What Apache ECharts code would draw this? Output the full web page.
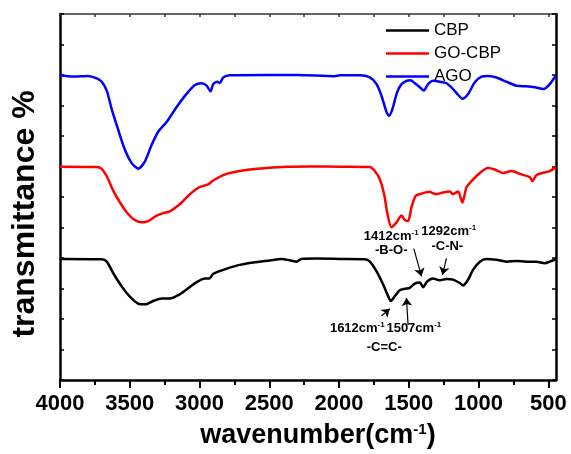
<!DOCTYPE html>
<html>
<head>
<meta charset="utf-8">
<script src="https://cdn.jsdelivr.net/npm/echarts@6/dist/echarts.min.js"></script>
<style>
html,body{margin:0;padding:0;background:#fff;}
#chart{width:571px;height:454px;}
</style>
</head>
<body>
<div id="chart"></div>
<script>
// ---- data (wavenumber, transmittance in arbitrary offset units) ----
const cbpWn = [4000,3701,3665,3618,3558,3499,3439,3391,3332,3272,3212,3153,3093,3021,2961,2930,2902,2830,2734,2615,2496,2412,2340,2305,2269,2161,1994,1815,1779,1731,1684,1648,1629,1600,1565,1529,1493,1457,1421,1398,1369,1326,1278,1230,1183,1135,1111,1075,1040,991,944,872,800,729,657,585,526,490,445];
const cbpT  = [3.97,3.96,3.88,3.50,3.07,2.73,2.50,2.48,2.59,2.67,2.67,2.78,2.97,3.21,3.33,3.33,3.48,3.61,3.75,3.85,3.92,3.97,3.91,3.88,3.97,3.98,3.97,3.96,3.88,3.56,3.13,2.75,2.59,2.75,2.94,2.99,3.02,3.16,3.20,3.04,3.23,3.33,3.27,3.31,3.29,3.18,3.10,3.29,3.61,3.88,3.97,3.94,3.88,3.90,3.88,3.88,3.83,3.88,3.96];

const goCbpWn = [4000,3737,3701,3665,3618,3570,3522,3475,3415,3367,3307,3260,3212,3140,3069,2997,2938,2902,2830,2759,2639,2519,2376,2209,1994,1779,1744,1708,1677,1653,1624,1588,1552,1529,1505,1481,1450,1409,1355,1302,1254,1207,1183,1147,1116,1087,1051,991,932,884,825,765,693,633,614,585,538,490,445];
const goCbpT  = [6.99,6.98,6.92,6.68,6.20,5.82,5.50,5.28,5.17,5.21,5.39,5.47,5.53,5.77,6.09,6.33,6.41,6.54,6.72,6.81,6.90,6.95,6.99,7.00,6.99,6.98,6.85,6.58,6.09,5.44,5.01,5.17,5.39,5.25,5.21,5.66,6.04,6.11,6.17,6.09,6.15,6.18,6.09,6.18,5.82,6.31,6.52,6.79,6.95,6.90,6.79,6.85,6.74,6.65,6.52,6.72,6.79,6.85,6.98];

const agoWn = [4000,3905,3800,3737,3701,3665,3630,3582,3534,3486,3439,3391,3343,3296,3236,3164,3093,3033,2985,2949,2921,2902,2873,2854,2830,2782,2500,2300,2030,1994,1851,1779,1731,1696,1660,1641,1617,1584,1552,1517,1488,1457,1421,1393,1362,1326,1278,1230,1183,1147,1116,1075,1027,979,932,872,800,729,657,598,533,490,445];
const agoT  = [9.99,9.95,9.97,9.89,9.78,9.49,8.89,8.19,7.54,7.11,6.93,7.17,7.71,8.14,8.46,8.95,9.38,9.67,9.73,9.65,9.46,9.70,9.78,9.74,9.92,9.99,10.0,10.0,9.96,9.99,9.99,9.92,9.70,9.32,8.79,8.66,8.89,9.43,9.70,9.81,9.83,9.73,9.60,9.49,9.70,9.81,9.78,9.73,9.54,9.35,9.22,9.38,9.76,9.95,9.97,9.92,9.78,9.65,9.63,9.60,9.54,9.70,9.99];

const seriesNames = ['CBP','GO-CBP','AGO'];

// tick labels
const majorTicks = [4000,3500,3000,2500,2000,1500,1000,500];
const minorTicks = [3750,3250,2750,2250,1750,1250,750];

// annotations (text + superscript, anchored in data coordinates)
const annoMain = ['1412cm','-B-O-','1292cm','-C-N-','1612cm','1507cm','-C=C-'];
const annoSup  = ['-1','','-1','','-1','-1',''];
const annoWn   = [1626,1626,1214,1224,1869,1464,1676];
const annoT    = [4.72,4.24,4.88,4.37,1.68,1.68,1.07];

// arrows: from -> to (data coordinates)
const arrowFromWn = [1464,1230,1696,1505];
const arrowFromT  = [4.31,3.99,2.10,1.80];
const arrowToWn   = [1409,1259,1636,1517];
const arrowToT    = [3.40,3.45,2.34,2.69];

const FONT = '"Liberation Sans", Arial, Helvetica, sans-serif';

function zip(a, b) { return a.map((x, i) => [x, b[i]]); }

const chart = echarts.init(document.getElementById('chart'), null, {renderer: 'canvas'});

const annoData = annoMain.map((t, i) => ({
  name: t,
  coord: [annoWn[i], annoT[i]],
  label: { formatter: annoSup[i] ? '{m|' + t + '}{s|' + annoSup[i] + '}' : '{m|' + t + '}' }
}));

const arrowData = arrowFromWn.map((w, i) => [
  { coord: [w, arrowFromT[i]] },
  { coord: [arrowToWn[i], arrowToT[i]] }
]);

const option = {
  animation: false,
  backgroundColor: '#fff',
  textStyle: { fontFamily: FONT },
  grid: { left: 60, right: 15, top: 14, bottom: 69, containLabel: false },
  legend: {
    data: seriesNames,
    orient: 'vertical',
    left: 381,
    top: 17,
    icon: 'rect',
    itemWidth: 43,
    itemHeight: 2.5,
    itemGap: 6,
    textStyle: { fontSize: 17, color: '#000', fontFamily: FONT },
    inactiveColor: '#ccc'
  },
  xAxis: [
    {
      type: 'value', position: 'bottom', inverse: true, min: 445, max: 4000,
      axisLine: { show: true, onZero: false, lineStyle: { color: '#000', width: 2.5 } },
      axisTick: { show: true, inside: false, length: 8, lineStyle: { color: '#000', width: 2 }, customValues: majorTicks },
      axisLabel: { show: true, customValues: majorTicks, formatter: v => String(v), fontSize: 22, fontWeight: 'bold', color: '#000', margin: 13, fontFamily: FONT },
      splitLine: { show: false },
      name: '{a|wavenumber(cm}{s|-1}{a|)}',
      nameLocation: 'middle',
      nameGap: 42,
      nameTextStyle: {
        padding: [0, 0, 0, 20],
        rich: {
          a: { fontSize: 27, fontWeight: 'bold', color: '#000', fontFamily: FONT },
          s: { fontSize: 15, fontWeight: 'bold', color: '#000', fontFamily: FONT, verticalAlign: 'top' }
        }
      }
    },
    {
      type: 'value', position: 'bottom', inverse: true, min: 445, max: 4000,
      axisLine: { show: false, onZero: false },
      axisTick: { show: true, inside: false, length: 5, lineStyle: { color: '#000', width: 2 }, customValues: minorTicks },
      axisLabel: { show: false },
      splitLine: { show: false }
    },
    {
      type: 'value', position: 'top', inverse: true, min: 445, max: 4000,
      axisLine: { show: true, onZero: false, lineStyle: { color: '#333', width: 1.5 } },
      axisTick: { show: true, inside: true, length: 3, lineStyle: { color: '#333', width: 1.5 }, customValues: majorTicks.concat(minorTicks) },
      axisLabel: { show: false },
      splitLine: { show: false }
    }
  ],
  yAxis: [
    {
      type: 'value', position: 'left', min: 0, max: 12, interval: 1,
      axisLine: { show: true, onZero: false, lineStyle: { color: '#000', width: 2.5 } },
      axisTick: { show: true, inside: true, length: 4, lineStyle: { color: '#000', width: 1.5 } },
      axisLabel: { show: false },
      splitLine: { show: false },
      name: 'transmittance %',
      nameLocation: 'middle',
      nameRotate: 90,
      nameGap: 19,
      nameTextStyle: { fontSize: 32, fontWeight: 'bold', color: '#000', fontFamily: FONT, padding: [0, 34, 0, 0] }
    },
    {
      type: 'value', position: 'right', min: 0, max: 12, interval: 1,
      axisLine: { show: true, onZero: false, lineStyle: { color: '#000', width: 2.5 } },
      axisTick: { show: true, inside: true, length: 4, lineStyle: { color: '#000', width: 1.5 } },
      axisLabel: { show: false },
      splitLine: { show: false }
    }
  ],
  series: [
    {
      name: 'CBP', type: 'line', xAxisIndex: 0, yAxisIndex: 0,
      data: zip(cbpWn, cbpT), symbol: 'none', smooth: 0.25,
      color: '#000', lineStyle: { color: '#000', width: 2.5 },
      z: 3,
      markPoint: {
        silent: true, symbol: 'circle', symbolSize: 0,
        label: {
          show: true, position: 'inside', color: '#000',
          rich: {
            m: { fontSize: 13, fontWeight: 'bold', color: '#000', fontFamily: FONT, lineHeight: 15 },
            s: { fontSize: 8, fontWeight: 'bold', color: '#000', fontFamily: FONT, verticalAlign: 'top', lineHeight: 8 }
          }
        },
        data: annoData
      },
      markLine: {
        silent: true, symbol: ['none', 'arrow'], symbolSize: 8,
        label: { show: false },
        lineStyle: { color: '#000', width: 1.2, type: 'solid' },
        itemStyle: { color: '#000' },
        emphasis: { disabled: true },
        data: arrowData
      }
    },
    {
      name: 'GO-CBP', type: 'line', xAxisIndex: 0, yAxisIndex: 0,
      data: zip(goCbpWn, goCbpT), symbol: 'none', smooth: 0.25,
      color: '#ff0000', lineStyle: { color: '#ff0000', width: 2.5 },
      z: 3
    },
    {
      name: 'AGO', type: 'line', xAxisIndex: 0, yAxisIndex: 0,
      data: zip(agoWn, agoT), symbol: 'none', smooth: 0.25,
      color: '#0000ff', lineStyle: { color: '#0000ff', width: 2.5 },
      z: 3
    }
  ]
};

chart.setOption(option);
</script>
</body>
</html>
